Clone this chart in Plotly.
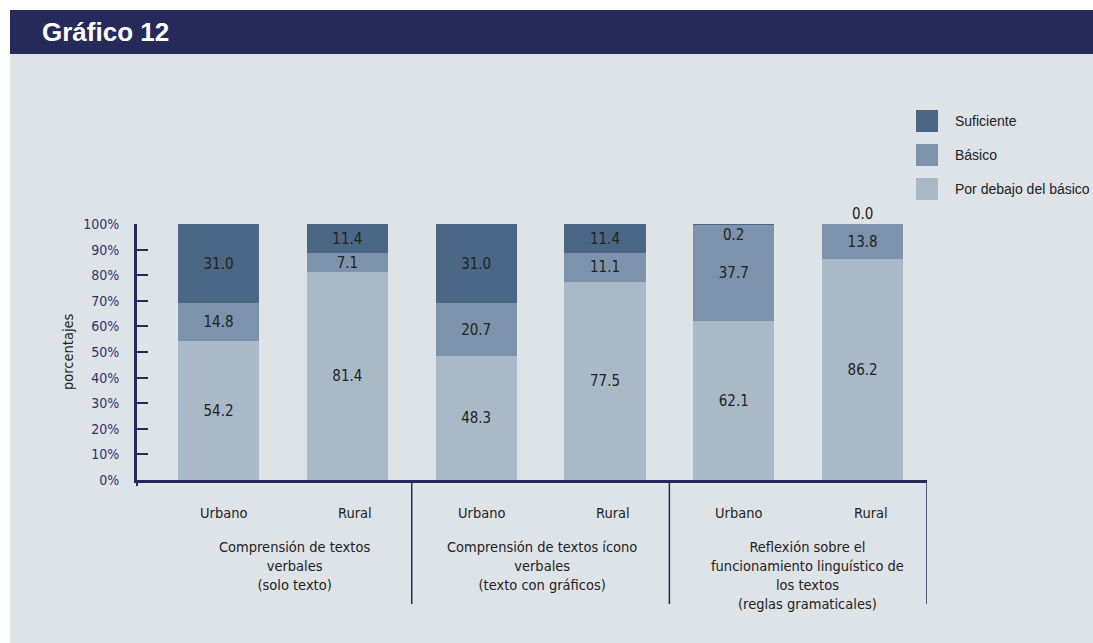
import plotly.graph_objects as go

# ---- data ----
categories = ["Urbano", "Rural", "Urbano", "Rural", "Urbano", "Rural"]
groups = [
    "Comprensión de textos<br>verbales<br>(solo texto)",
    "Comprensión de textos ícono<br>verbales<br>(texto con gráficos)",
    "Reflexión sobre el<br>funcionamiento linguístico de<br>los textos<br>(reglas gramaticales)",
]
por_debajo = [54.2, 81.4, 48.3, 77.5, 62.1, 86.2]
basico = [14.8, 7.1, 20.7, 11.1, 37.7, 13.8]
suficiente = [31.0, 11.4, 31.0, 11.4, 0.2, 0.0]
series_names = ["Por debajo del básico", "Básico", "Suficiente"]
yticks = [0, 10, 20, 30, 40, 50, 60, 70, 80, 90, 100]

# ---- style ----
OFF = 0
W, H = 1093 - OFF, 643 - OFF
L, R, T, B = 137, 927, 224, 480  # plot area in reference px
NAVY = "#262A5B"
PANEL = "#DEE3E8"
COLORS = {"Suficiente": "#4A6886", "Básico": "#7D93AB", "Por debajo del básico": "#AAB9C8"}
NARROW = "Liberation Sans Narrow, DejaVu Sans Condensed, Arial Narrow, sans-serif"
REG = "Liberation Sans, Arial, sans-serif"
TXT = "#222222"

def px2x(px):
    return (px - L) / (R - L)

def py2y(py):
    return (B - py) / (B - T)

xs = list(range(len(categories)))
SMALL = 1.0  # segments below this get external labels

def fmt(v):
    return f"{v:.1f}"

fig = go.Figure()
for name, vals in zip(series_names, [por_debajo, basico, suficiente]):
    fig.add_trace(go.Bar(
        x=xs, y=vals, name=name, width=0.63,
        marker=dict(color=COLORS[name], line=dict(width=0)),
        text=[fmt(v) if v >= SMALL else "" for v in vals],
        textposition="inside", insidetextanchor="middle", textangle=0,
        constraintext="none",
        textfont=dict(family=NARROW, size=15, color=TXT),
        showlegend=False,
    ))

annotations = []
# tiny segment labels
for i, v in enumerate(suficiente):
    if v < SMALL:
        top = min(por_debajo[i] + basico[i] + v, 100)
        shift = -11 if v > 0 else 10
        annotations.append(dict(x=i, y=top, xref="x", yref="y", text=fmt(v), showarrow=False,
                                xanchor="center", yanchor="middle",
                                yshift=shift, font=dict(family=NARROW, size=15, color=TXT)))
# category labels
for i, c in enumerate(categories):
    annotations.append(dict(x=i, y=py2y(513), xref="x", yref="paper", text=c, showarrow=False,
                            xshift=5 if c == "Urbano" else 8, xanchor="center", yanchor="middle",
                            font=dict(family=NARROW, size=14.5, color=TXT)))
# group labels
group_px = [294, 542, 807]
for g, gx in zip(groups, group_px):
    annotations.append(dict(x=px2x(gx), y=py2y(537), xref="paper", yref="paper", text=g,
                            showarrow=False, xanchor="center", yanchor="top", align="center",
                            font=dict(family=NARROW, size=14.5, color=TXT)))
# y-axis title
annotations.append(dict(x=px2x(68), y=py2y(352), xref="paper", yref="paper", text="porcentajes",
                        textangle=-90, showarrow=False, xanchor="center", yanchor="middle",
                        font=dict(family=NARROW, size=14.5, color=TXT)))
# header title
annotations.append(dict(x=px2x(40), y=py2y(32), xref="paper", yref="paper", text="<b>Gráfico 12</b>",
                        xanchor="left", yanchor="middle", showarrow=False,
                        font=dict(family=REG, size=26, color="white")))

shapes = []
# panel and header
shapes.append(dict(type="rect", xref="paper", yref="paper", x0=px2x(10), x1=px2x(1110),
                   y0=py2y(660), y1=py2y(54), fillcolor=PANEL, line=dict(width=0), layer="below"))
shapes.append(dict(type="rect", xref="paper", yref="paper", x0=px2x(10), x1=px2x(1110),
                   y0=py2y(54), y1=py2y(10), fillcolor=NAVY, line=dict(width=0), layer="below"))
# group separators
for sx in [1.5, 3.5, 5.5]:
    shapes.append(dict(type="line", xref="x", yref="paper", x0=sx, x1=sx, y0=0, y1=py2y(604),
                       line=dict(color=NAVY, width=1.5)))
# left stub
shapes.append(dict(type="line", xref="paper", yref="paper", x0=0, x1=0, y0=0, y1=py2y(486),
                   line=dict(color=NAVY, width=2)))
# legend (manual)
legend_items = ["Suficiente", "Básico", "Por debajo del básico"]
for k, name in enumerate(legend_items):
    top = 110 + 34 * k
    shapes.append(dict(type="rect", xref="paper", yref="paper", x0=px2x(916), x1=px2x(938),
                       y0=py2y(top + 22), y1=py2y(top), fillcolor=COLORS[name], line=dict(width=0)))
    annotations.append(dict(x=px2x(953), y=py2y(top + 11), xref="paper", yref="paper", text=name,
                            xanchor="left", yanchor="middle", showarrow=False,
                            font=dict(family=REG, size=14, color=TXT)))

fig.update_layout(
    width=W, height=H, barmode="stack",
    margin=dict(l=L - OFF, r=1093 - R, t=T - OFF, b=643 - B, pad=0),
    paper_bgcolor="white", plot_bgcolor=PANEL,
    shapes=shapes, annotations=annotations,
    xaxis=dict(range=[-0.633, 5.5], showgrid=False, zeroline=False,
               showticklabels=False, ticks="", showline=True, linecolor=NAVY, linewidth=3,
               fixedrange=True),
    yaxis=dict(range=[0, 100], tickvals=yticks, ticktext=[f"{v}%" for v in yticks],
               showgrid=False, zeroline=False, showline=True, linecolor=NAVY, linewidth=3,
               ticks="inside", ticklen=11, tickwidth=1.5, tickcolor=NAVY,
               ticklabelstandoff=12,
               tickfont=dict(family=NARROW, size=14, color="#2E3270"), fixedrange=True),
)

fig.write_html(
    "out.html",
    config={"displayModeBar": False},
    post_script="document.body.style.margin='0';document.body.style.overflow='hidden';",
)
